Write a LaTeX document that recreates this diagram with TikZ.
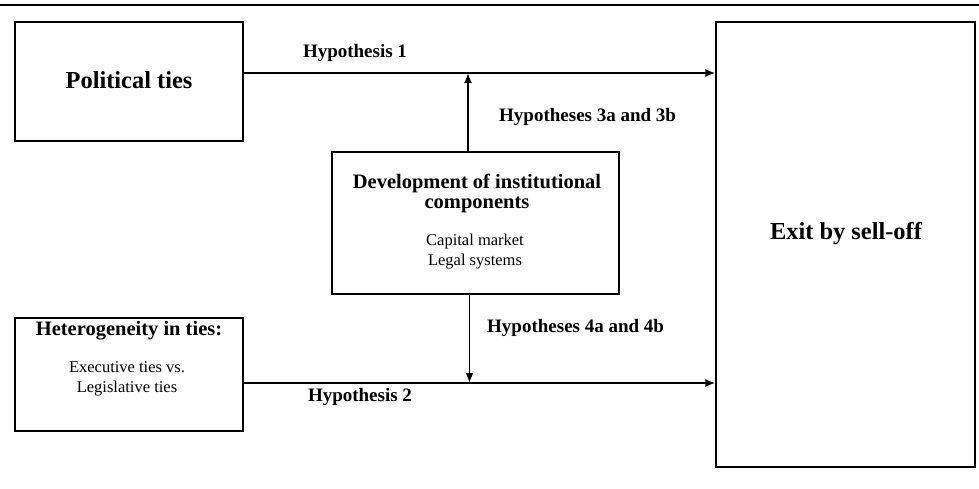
\documentclass[tikz,border=0pt]{standalone}
\usepackage{fontspec}
\setmainfont{Liberation Serif}
\usepackage{tikz}
\usetikzlibrary{arrows.meta, positioning, calc}

\tikzset{
    boxnode/.style={draw, line width=1.2pt, rectangle, inner sep=0pt},
    arr/.style={-{Latex[length=10pt,width=8pt]}, line width=1.8pt},
    bigtxt/.style={font=\fontsize{24.4}{28}\selectfont\bfseries},
    headtxt/.style={font=\fontsize{20.5}{20}\selectfont\bfseries, align=center},
    hyptxt/.style={font=\fontsize{19}{22}\selectfont\bfseries},
    subtxt/.style={font=\fontsize{16.5}{20}\selectfont, align=center}
}

\begin{document}
\begin{tikzpicture}[x=1pt, y=-1pt]
    \useasboundingbox (0,0) rectangle (979,488);

    % Rule at the top
    \draw[line width=2pt] (0,5) -- (979,5);

    % The boxes
    \node[boxnode, minimum width=228pt, minimum height=119pt] (pol) at (129,81.5) {};
    \node[boxnode, minimum width=228pt, minimum height=113pt] (het) at (129,374.5) {};
    \node[boxnode, minimum width=287pt, minimum height=142pt] (inst) at (475.5,223) {};
    \node[boxnode, minimum width=259pt, minimum height=445pt] (exit) at (845.5,244.5) {};

    % Box texts
    \node[bigtxt] (poltxt) at (129,80) {Political ties};
    \node[bigtxt] (exittxt) at (846,234) {Exit by sell-off};
    \node[headtxt] (hethead) at (129,331) {Heterogeneity in ties:};
    \node[subtxt] (hetsub) at (127,379) {Executive ties vs.\\Legislative ties};
    \node[headtxt] (insthead) at (477,193) {Development of institutional\\components};
    \node[subtxt] (instsub) at (475,252) {Capital market\\Legal systems};

    % Main effects
    \coordinate (hone) at ([yshift=8.5pt]pol.east);
    \coordinate (htwo) at ([yshift=-8.5pt]het.east);
    \draw[arr] (hone) -- (hone -| exit.west);
    \draw[arr] (htwo) -- (htwo -| exit.west);

    % Moderation
    \coordinate (mup) at ([xshift=-7.5pt]inst.north);
    \coordinate (mdown) at ([xshift=-6pt]inst.south);
    \draw[arr] (mup) -- (mup |- hone);
    \draw[arr] (mdown) -- (mdown |- htwo);

    % Labels
    \node[hyptxt] (lone) at (355,53) {Hypothesis 1};
    \node[hyptxt] (ltwo) at (360,397) {Hypothesis 2};
    \node[hyptxt, anchor=west, inner sep=0pt] (lthree) at (499,117) {Hypotheses 3a and 3b};
    \node[hyptxt, anchor=west, inner sep=0pt] (lfour) at (487,328) {Hypotheses 4a and 4b};
\end{tikzpicture}
\end{document}
